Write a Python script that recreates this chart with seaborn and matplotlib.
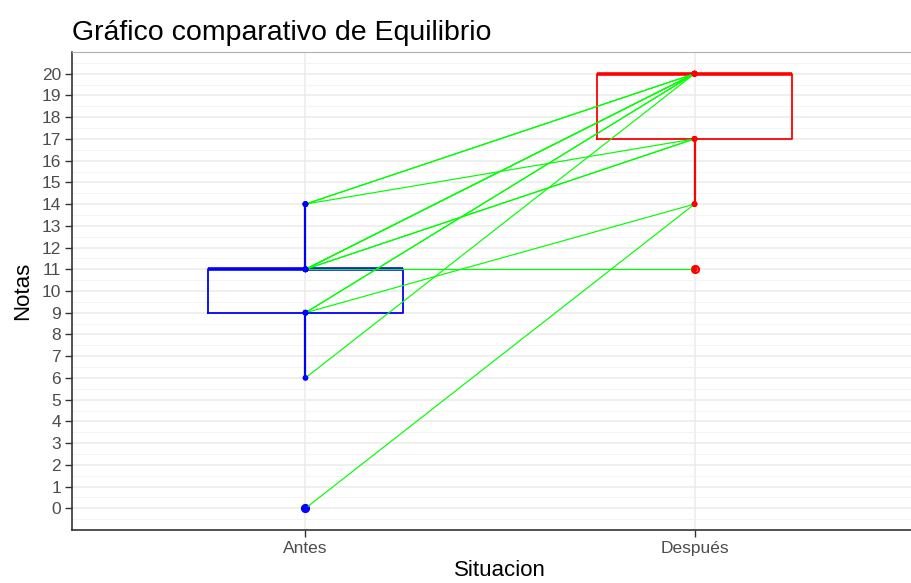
import matplotlib
matplotlib.use('Agg')
from matplotlib import pyplot as plt
import numpy as np
import pandas as pd
import seaborn as sns

# notas por alumno: antes / después (pares unidos por línea)
antes = [14, 14, 14, 11, 11, 11, 11, 11, 11, 9, 9, 9, 6, 0]
despues = [20, 20, 17, 20, 20, 20, 17, 17, 11, 20, 20, 14, 20, 14]
situaciones = ['Antes', 'Después']
colores = {'Antes': 'blue', 'Después': 'red'}

n = len(antes)
df = pd.DataFrame({
    'id': list(range(n)) * 2,
    'Situacion': ['Antes'] * n + ['Después'] * n,
    'Notas': antes + despues,
})
df['pos'] = df['Situacion'].map({s: i for i, s in enumerate(situaciones)})

sns.set_theme(style='whitegrid')
plt.rcParams['font.family'] = ['Liberation Sans', 'DejaVu Sans']

fig = plt.figure(figsize=(9.12, 5.83), dpi=100)
ax = fig.add_axes([72 / 912, 53 / 583, 856 / 912, 478 / 583])

sns.boxplot(data=df, x='Situacion', y='Notas', hue='Situacion', order=situaciones,
            palette=colores, fill=False, width=0.5, whis=1.5, showcaps=False,
            linewidth=1.3, legend=False, ax=ax,
            medianprops={'linewidth': 2.6},
            whiskerprops={'linewidth': 1.6},
            flierprops={'marker': 'o', 'markersize': 5, 'markeredgewidth': 1.6})
for c in ax.collections:
    c.set_zorder(2)

sns.lineplot(data=df, x='pos', y='Notas', units='id', estimator=None,
             color='#00FF00', linewidth=0.85, ax=ax, zorder=3)

sns.stripplot(data=df, x='Situacion', y='Notas', hue='Situacion', order=situaciones,
              palette=colores, jitter=False, size=4.2, linewidth=0, legend=False,
              ax=ax, zorder=4)

ax.set_xlim(-0.6, 1.6)
ax.set_ylim(-1, 21)
ax.set_yticks(range(0, 21))
ax.set_yticks(np.arange(-0.5, 21, 1), minor=True)
ax.set_xticks([0, 1])
ax.set_xticklabels(situaciones)

ax.grid(True, which='major', color='#EBEBEB', linewidth=1.1)
ax.grid(True, which='minor', axis='y', color='#F2F2F2', linewidth=0.6)
ax.set_axisbelow(True)
ax.set_facecolor('white')

for side in ['top', 'right']:
    ax.spines[side].set_color('#B0B0B0')
    ax.spines[side].set_linewidth(0.8)
for side in ['left', 'bottom']:
    ax.spines[side].set_color('#333333')
    ax.spines[side].set_linewidth(1.2)

ax.tick_params(axis='both', which='major', length=5, width=1, color='#333333',
               labelsize=12.5, labelcolor='#4D4D4D', left=True, bottom=True, pad=3)
ax.tick_params(axis='both', which='minor', length=0)

ax.set_xlabel('Situacion', fontsize=16, color='black', labelpad=3)
ax.set_ylabel('Notas', fontsize=16, color='black', labelpad=6)
ax.set_title('Gráfico comparativo de Equilibrio', fontsize=20.5, loc='left',
             x=0.0, pad=9, color='black')

fig.savefig('out.png', dpi=100)
